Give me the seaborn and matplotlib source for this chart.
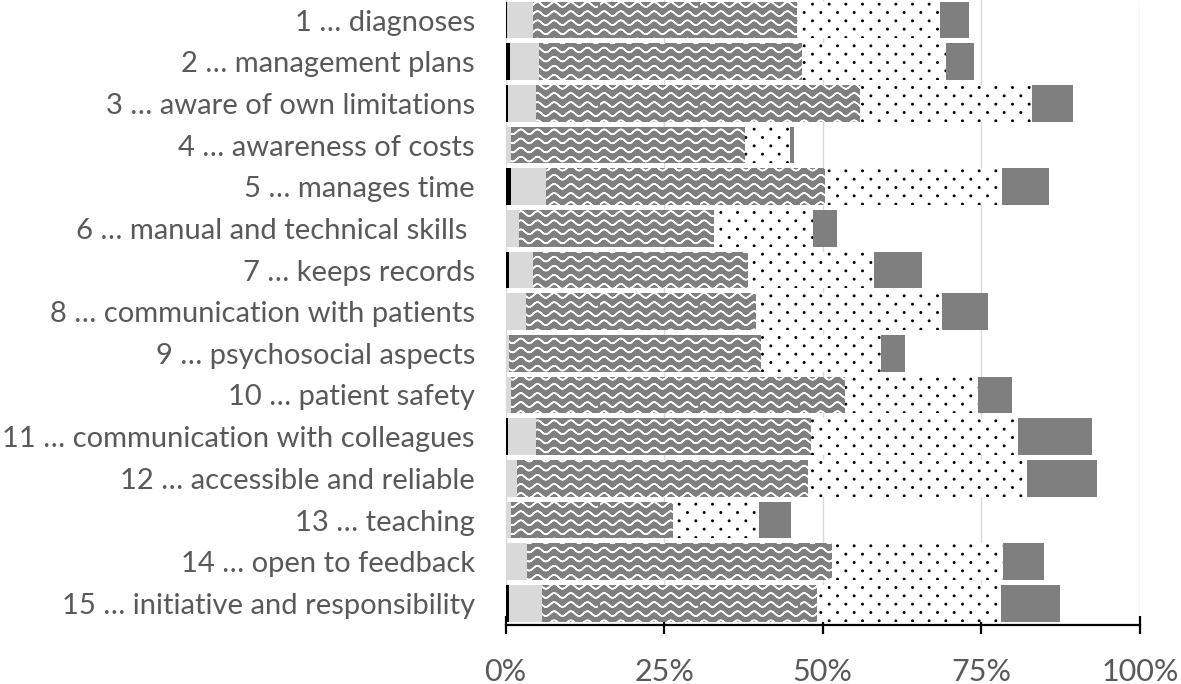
import numpy as np
import pandas as pd
import matplotlib
matplotlib.use("Agg")
import matplotlib.pyplot as plt
import matplotlib.hatch as mhatch
from matplotlib.path import Path
import seaborn as sns

# ---------------- data (percent of respondents) ----------------
categories = [
    "1 … diagnoses",
    "2 … management plans",
    "3 … aware of own limitations",
    "4 … awareness of costs",
    "5 … manages time",
    "6 … manual and technical skills ",
    "7 … keeps records",
    "8 … communication with patients",
    "9 … psychosocial aspects",
    "10 … patient safety",
    "11 … communication with colleagues",
    "12 … accessible and reliable",
    "13 … teaching",
    "14 … open to feedback",
    "15 … initiative and responsibility",
]
level_1 = [0.2, 0.7, 0.4, 0.0, 0.9, 0.0, 0.5, 0.0, 0.0, 0.0, 0.4, 0.0, 0.0, 0.0, 0.5]
level_2 = [4.1, 4.6, 4.4, 0.9, 5.5, 2.1, 3.8, 3.2, 0.5, 0.9, 4.4, 1.8, 0.9, 3.4, 5.3]
level_3 = [41.7, 41.4, 51.0, 36.8, 43.9, 30.8, 33.9, 36.3, 39.8, 52.6, 43.3, 45.8, 25.5, 48.1, 43.3]
level_4 = [22.5, 22.7, 27.1, 7.1, 27.9, 15.6, 19.9, 29.3, 18.9, 20.9, 32.6, 34.6, 13.6, 26.9, 29.0]
level_5 = [4.6, 4.5, 6.5, 0.7, 7.5, 3.8, 7.6, 7.2, 3.8, 5.5, 11.8, 11.1, 5.0, 6.4, 9.3]
x_ticks = [0, 25, 50, 75, 100]
x_tick_labels = ["0%", "25%", "50%", "75%", "100%"]


# ---------------- custom hatch patterns ----------------
class WaveHatch(mhatch.HatchPatternBase):
    """Horizontal wavy lines, used for the '-' hatch."""
    def __init__(self, hatch, density):
        self.rows = 11 if "-" in hatch else 0
        self.npts = 97
        self.num_vertices = self.rows * self.npts * 2

    def set_vertices_and_codes(self, vertices, codes):
        xs = np.linspace(0, 1, self.npts)
        k = 0
        for r in range(self.rows):
            y0 = (r + 0.5) / self.rows
            ys = y0 + 0.024 * np.sin(2 * np.pi * 6 * xs)
            fx = np.concatenate([xs, xs[::-1]])
            fy = np.concatenate([ys, ys[::-1]])
            n = len(fx)
            vertices[k:k + n, 0] = fx
            vertices[k:k + n, 1] = fy
            codes[k] = Path.MOVETO
            codes[k + 1:k + n] = Path.LINETO
            k += n


class DotHatch(mhatch.HatchPatternBase):
    """Small staggered dots, used for the '.' hatch."""
    def __init__(self, hatch, density):
        self.rows = 12 if "." in hatch else 0
        self.cols = 6
        self.circ = Path.unit_circle()
        self.nv = len(self.circ.vertices)
        self.num_vertices = self.rows * self.cols * self.nv

    def set_vertices_and_codes(self, vertices, codes):
        k = 0
        rad = 0.007
        for r in range(self.rows):
            y = (r + 0.5) / self.rows
            for c in range(self.cols):
                x = (c + 0.25 + 0.5 * (r % 2)) / self.cols
                vertices[k:k + self.nv] = self.circ.vertices * rad + [x, y]
                codes[k:k + self.nv] = self.circ.codes
                k += self.nv


_ht = mhatch._hatch_types
_ht[_ht.index(mhatch.HorizontalHatch)] = WaveHatch
_ht[_ht.index(mhatch.SmallFilledCircles)] = DotHatch

# ---------------- style ----------------
sns.set_theme(style="white")
plt.rcParams["font.family"] = ["Lato", "DejaVu Sans"]
plt.rcParams["hatch.linewidth"] = 1.1

df = pd.DataFrame({
    "item": categories,
    "l1": level_1, "l2": level_2, "l3": level_3, "l4": level_4, "l5": level_5,
})
df["c1"] = df["l1"]
df["c2"] = df["c1"] + df["l2"]
df["c3"] = df["c2"] + df["l3"]
df["c4"] = df["c3"] + df["l4"]
df["c5"] = df["c4"] + df["l5"]

fig = plt.figure(figsize=(11.81, 6.84), dpi=100)
ax = fig.add_axes([505.5 / 1181, 1 - 625 / 684, (1140 - 505.5) / 1181, 625 / 684])

layers = [
    ("c5", "#7f7f7f", None, "#7f7f7f"),
    ("c4", "white", ".", "black"),
    ("c3", "#7f7f7f", "-", "white"),
    ("c2", "#d9d9d9", None, "#d9d9d9"),
    ("c1", "black", None, "black"),
]
for col, fc, hatch, ec in layers:
    sns.barplot(data=df, x=col, y="item", orient="h", color=fc, saturation=1,
                width=0.88, edgecolor=ec, linewidth=0, hatch=hatch,
                errorbar=None, ax=ax)

ax.set_xlim(0, 100)
ax.set_ylim(14.52, -0.48)
ax.set_xticks(x_ticks)
ax.set_xticklabels(x_tick_labels)
ax.set_xlabel("")
ax.set_ylabel("")

ax.set_axisbelow(True)
ax.xaxis.grid(True, color="#d9d9d9", linewidth=1.0)
ax.yaxis.grid(False)
for s in ["top", "right", "left"]:
    ax.spines[s].set_visible(False)
ax.spines["bottom"].set_color("black")
ax.spines["bottom"].set_linewidth(1.6)

ax.tick_params(axis="x", direction="inout", length=13, width=1.6, color="black",
               pad=17, labelsize=22, labelcolor="#595959", bottom=True)
ax.tick_params(axis="y", length=0, pad=22, labelsize=21, labelcolor="#595959")

fig.savefig("out.png", dpi=100)
